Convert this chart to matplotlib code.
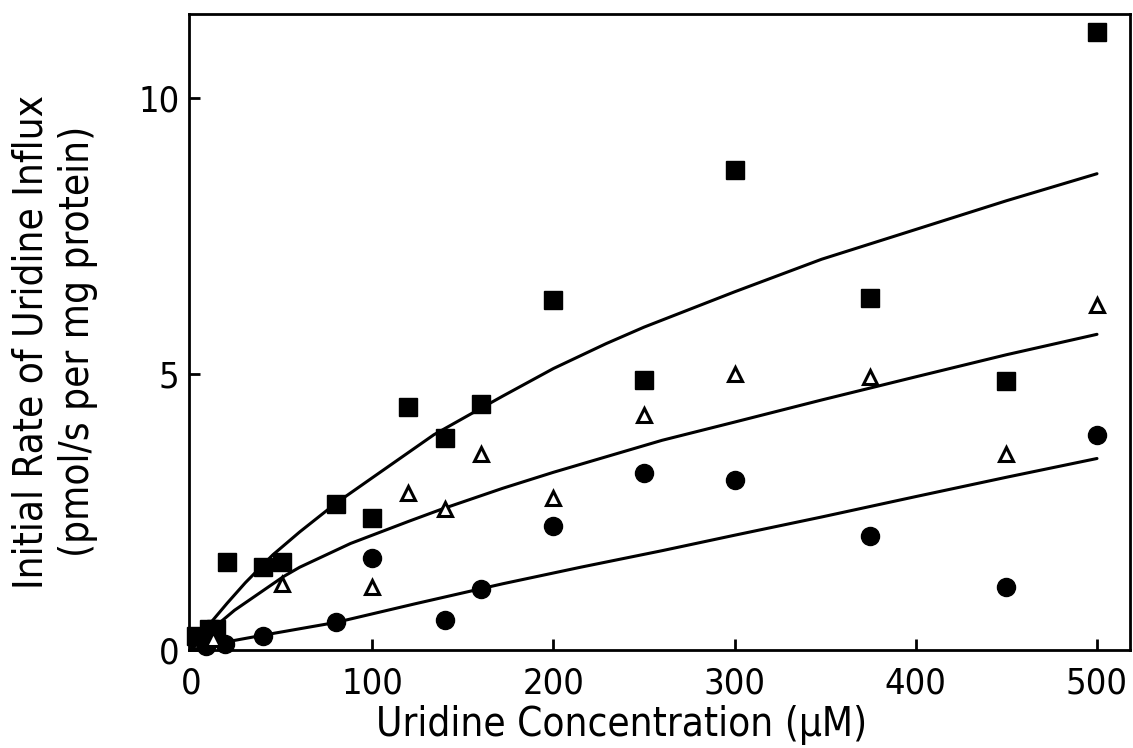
import matplotlib
matplotlib.use("Agg")
import matplotlib.pyplot as plt

plt.rcParams['font.family'] = ['DejaVu Sans']
plt.rcParams['font.stretch'] = 'condensed'

# Measured initial influx rates (pmol/s per mg protein) vs uridine concentration (uM)
sq_x = [3, 10, 14, 20, 40, 50, 80, 100, 120, 140, 160, 200, 250, 300, 375, 450, 500]
sq_y = [0.25, 0.38, 0.38, 1.6, 1.5, 1.6, 2.65, 2.4, 4.4, 3.85, 4.45, 6.35, 4.9, 8.7, 6.37, 4.88, 11.2]

tri_x = [12, 50, 100, 120, 140, 160, 200, 250, 300, 375, 450, 500]
tri_y = [0.2, 1.2, 1.14, 2.85, 2.55, 3.55, 2.75, 4.25, 5.0, 4.95, 3.55, 6.25]

circ_x = [8, 19, 40, 80, 100, 140, 160, 200, 250, 300, 375, 450, 500]
circ_y = [0.08, 0.1, 0.25, 0.5, 1.67, 0.55, 1.1, 2.25, 3.2, 3.08, 2.07, 1.15, 3.9]

# Fitted curves, read point by point
fit_hi_x = [0, 11, 20, 30, 45, 60, 80, 100, 134, 160, 172, 200, 229, 250, 300, 348, 400, 450, 500]
fit_hi_y = [0, 0.5, 0.85, 1.22, 1.72, 2.14, 2.66, 3.12, 3.9, 4.38, 4.6, 5.1, 5.55, 5.85, 6.49, 7.08, 7.62, 8.14, 8.63]

fit_mid_x = [0, 16, 24, 51, 60, 88, 120, 139, 172, 200, 260, 300, 348, 400, 450, 500]
fit_mid_y = [0, 0.5, 0.72, 1.33, 1.5, 1.93, 2.33, 2.56, 2.93, 3.22, 3.8, 4.13, 4.53, 4.95, 5.35, 5.72]

fit_lo_x = [0, 20, 40, 80, 124, 172, 215, 260, 300, 348, 400, 450, 500]
fit_lo_y = [0, 0.15, 0.27, 0.5, 0.84, 1.2, 1.5, 1.8, 2.08, 2.41, 2.78, 3.13, 3.47]

fig = plt.figure(figsize=(11.33, 7.48), dpi=100)
ax = fig.add_axes([0.167, 0.131, 0.830, 0.850])

for xs, ys in [(fit_hi_x, fit_hi_y), (fit_mid_x, fit_mid_y), (fit_lo_x, fit_lo_y)]:
    ax.plot(xs, ys, color='black', lw=2.2, solid_capstyle='round',
            solid_joinstyle='round', zorder=2)

ax.plot(sq_x, sq_y, ls='none', marker='s', ms=13, mfc='black', mec='black',
        clip_on=False, zorder=3)
ax.plot(circ_x, circ_y, ls='none', marker='o', ms=13, mfc='black', mec='black',
        clip_on=False, zorder=3)
ax.plot(tri_x, tri_y, ls='none', marker='^', ms=10, mfc='white', mec='black',
        mew=2.2, clip_on=False, zorder=4)

ax.set_xlim(-1, 518)
ax.set_ylim(0, 11.52)
ax.set_xticks([0, 100, 200, 300, 400, 500])
ax.set_yticks([0, 5, 10])

for s in ax.spines.values():
    s.set_linewidth(2.0)

ax.tick_params(direction='in', length=8, width=2, labelsize=26)
ax.tick_params(axis='x', pad=12)
ax.tick_params(axis='y', pad=7)

ax.set_xlabel('Uridine Concentration (µM)', fontsize=29)
ax.xaxis.set_label_coords(0.46, -0.086)
ax.set_ylabel('Initial Rate of Uridine Influx\n(pmol/s per mg protein)',
              fontsize=29, linespacing=1.22)
ax.yaxis.set_label_coords(-0.097, 0.485)

fig.savefig('out.png', dpi=100)
